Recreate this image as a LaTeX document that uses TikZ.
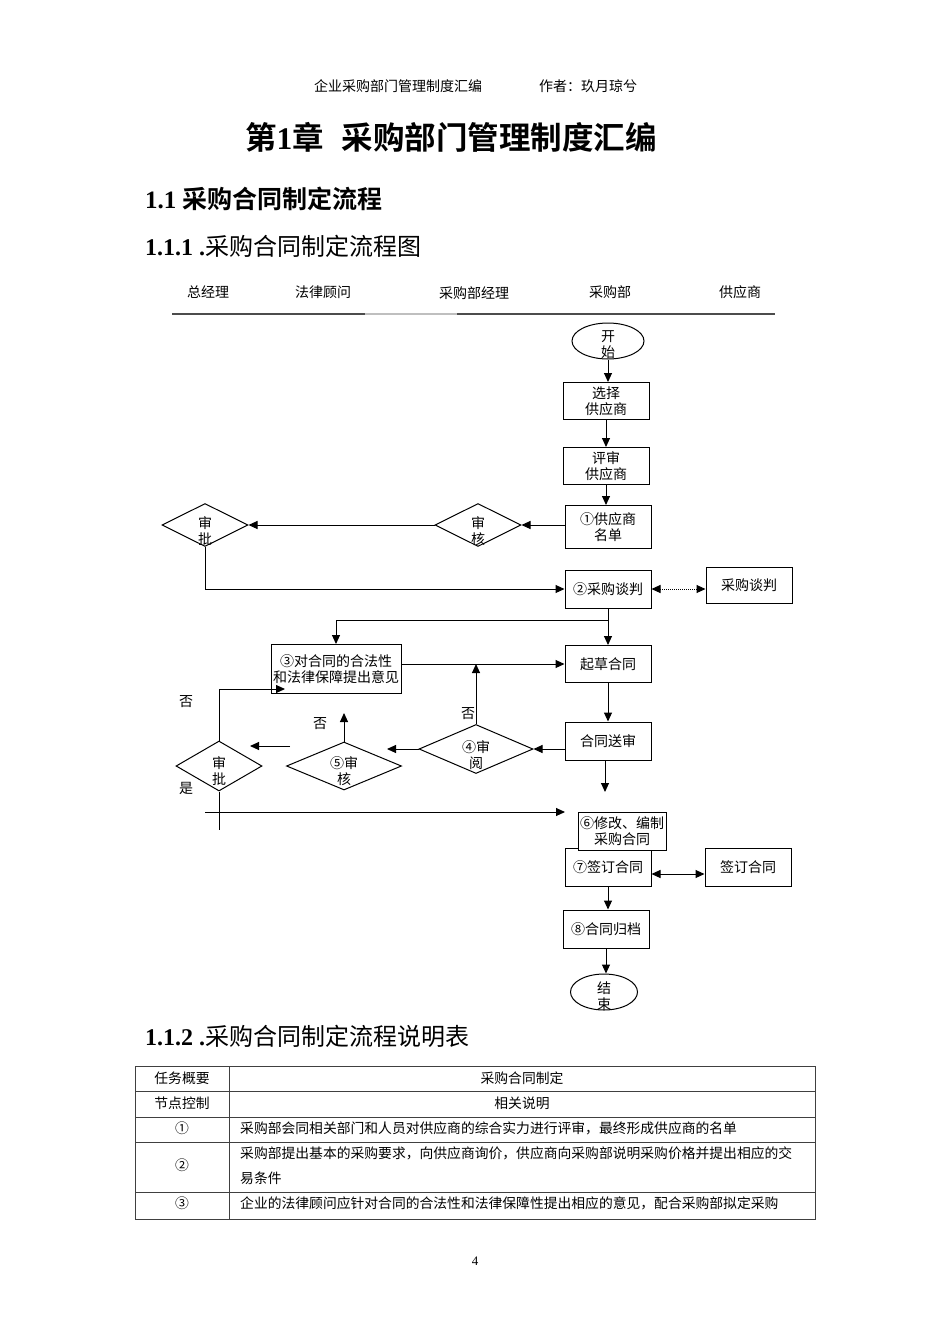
\documentclass[tikz,border=0pt]{standalone}
\usepackage{fontspec}
\setmainfont{Liberation Serif}
\newfontfamily\cjk{Noto Sans CJK SC}[BoldFont={* Bold}]
\usetikzlibrary{arrows.meta,shapes.geometric,calc}
\begin{document}
\begin{tikzpicture}[x=1pt,y=-1pt,
  every node/.style={inner sep=0pt},
  txt/.style={font=\fontsize{14}{16}\selectfont\cjk,align=center},
  box/.style={draw,line width=1pt,minimum width=86pt,minimum height=37pt,font=\fontsize{14}{16}\selectfont\cjk,align=center},
  dia/.style={draw,line width=1pt,diamond},
  ell/.style={draw,line width=1pt,ellipse},
  ln/.style={line width=1pt},
  arr/.style={line width=1pt,-{Triangle[length=9pt,width=8pt]}},
  darr/.style={line width=1pt,{Triangle[length=9pt,width=8pt]}-{Triangle[length=9pt,width=8pt]}},
  tbl/.style={draw=black!75,line width=0.8pt},
  ttxt/.style={font=\fontsize{13.8}{16}\selectfont\cjk}
]
\useasboundingbox (0,0) rectangle (950,1344);
\fill[white] (0,0) rectangle (950,1344);

% page header and headings
\node[font=\fontsize{14}{16}\selectfont\cjk] (hdA) at (398,86) {企业采购部门管理制度汇编};
\node[font=\fontsize{14}{16}\selectfont\cjk] (hdB) at (588,86) {作者：玖月琼兮};
\node (title) at (451,137) {\fontsize{31.5}{35}\selectfont{\cjk\bfseries 第}{\bfseries 1}{\cjk\bfseries 章\hspace{18pt}采购部门管理制度汇编}};
\node[anchor=west] (h11) at (145,199) {\fontsize{25}{28}\selectfont{\bfseries 1.1 }{\cjk\bfseries 采购合同制定流程}};
\node[anchor=west] (h111) at (145,246) {\fontsize{24}{27}\selectfont{\bfseries 1.1.1 .}{\cjk 采购合同制定流程图}};

% lane header
\node[txt] (lA) at (208,292) {总经理};
\node[txt] (lB) at (323,292) {法律顾问};
\node[txt] (lC) at (474,293) {采购部经理};
\node[txt] (lD) at (610,292) {采购部};
\node[txt] (lE) at (740,292) {供应商};
\draw[black!70,line width=1.6pt] (172,314) -- (365,314);
\draw[black!25,line width=1.6pt] (365,314) -- (457,314);
\draw[black!70,line width=1.6pt] (457,314) -- (775,314);

% nodes
\node[ell,minimum width=72pt,minimum height=36pt] (start) at (608,341) {};
\node[txt] at (608,345) {开\\始};
\node[box] (sel) at (606,401) {选择\\供应商};
\node[box] (rev) at (606,466) {评审\\供应商};
\node[box,minimum height=43pt] (n1) at (608,527) {①供应商\\名单};
\node[dia,minimum width=86pt,minimum height=43pt] (dA) at (478,525) {};
\node[txt] at (478,531) {审\\核};
\node[dia,minimum width=86pt,minimum height=43pt] (dB) at (205,525) {};
\node[txt] at (205,531) {审\\批};
\node[box,minimum height=38pt] (n2) at (608,589) {②采购谈判};
\node[box,minimum height=36pt] (neg) at (749,585) {采购谈判};
\node[box,minimum width=130pt,minimum height=49pt] (n3) at (336,669) {③对合同的合法性\\和法律保障提出意见};
\node[box] (draft) at (608,664) {起草合同};
\node[box,minimum height=38pt] (send) at (608,741) {合同送审};
\node[dia,minimum width=114pt,minimum height=49pt] (d4) at (476,749) {};
\node[txt] at (476,755) {④审\\阅};
\node[dia,minimum width=115pt,minimum height=48pt] (d5) at (344,766) {};
\node[txt] at (344,771) {⑤审\\核};
\node[dia,minimum width=86pt,minimum height=50pt] (d6) at (219,766) {};
\node[txt] at (219,771) {审\\批};
\node[box,minimum height=38pt] (n7) at (608,867) {⑦签订合同};
\node[box,minimum width=88pt,minimum height=38pt,fill=white] (n6) at (622,831) {⑥修改、编制\\采购合同};
\node[box,minimum height=38pt] (sign) at (748,867) {签订合同};
\node[box,minimum height=38pt] (n8) at (606,929) {⑧合同归档};
\node[ell,minimum width=67pt,minimum height=36pt] (end) at (604,992) {};
\node[txt] at (604,996) {结\\束};

% labels
\node[txt] (no1) at (186,702) {否};
\node[txt] (yes) at (186,788) {是};
\node[txt] (no2) at (320,724) {否};
\node[txt] (no3) at (468,714) {否};

% free ends
\coordinate (br) at (608,620);
\coordinate (c1) at (387,749);
\coordinate (c2) at (344,713);
\coordinate (c3) at (290,746);
\coordinate (c4) at (250,746);
\coordinate (c5) at (285,689);
\coordinate (c6) at (219,830);
\coordinate (c7) at (205,812);
\coordinate (c8) at (565,812);
\coordinate (c9) at (605,792);

% connectors
\draw[arr] (start.south) -- (start.south |- sel.north);
\draw[arr] (sel.south) -- (rev.north);
\draw[arr] (rev.south) -- (rev.south |- n1.north);
\draw[arr] (n1.west |- dA.east) -- (dA.east);
\draw[arr] (dA.west) -- (dB.east);
\draw[arr] (dB.south) |- (n2.west);
\draw[darr,densely dotted] (n2.east) -- (n2.east -| neg.west);
\draw[arr] (n2.south) -- (draft.north);
\draw[arr] (br) -| (n3.north);
\draw[arr] (n3.east |- draft.west) -- (draft.west);
\draw[arr] (draft.south) -- (send.north);
\draw[arr] (send.west |- d4.east) -- (d4.east);
\draw[arr] (d4.north) -- (d4.north |- draft.west);
\draw[arr] (d4.west) -- (c1);
\draw[arr] (d5.north) -- (c2);
\draw[arr] (c3) -- (c4);
\draw[arr] (d6.north) |- (c5);
\draw[ln] (d6.south) -- (c6);
\draw[arr] (c7) -- (c8);
\draw[arr] (c9 |- send.south) -- (c9);
\draw[darr] ([yshift=-7pt]n7.east) -- ([yshift=-7pt]n7.east -| sign.west);
\draw[arr] (n7.south) -- (n7.south |- n8.north);
\draw[arr] (n8.south) -- (n8.south |- end.north);

% second heading and table
\node[anchor=west] (h112) at (145,1036) {\fontsize{24}{27}\selectfont{\bfseries 1.1.2 .}{\cjk 采购合同制定流程说明表}};
\draw[tbl] (135,1066) rectangle (815,1219);
\draw[tbl] (229,1066) -- (229,1219);
\foreach \yy in {1091,1117,1142,1192} \draw[tbl] (135,\yy) -- (815,\yy);
\node[ttxt] (t11) at (182,1078) {任务概要};
\node[ttxt] (t12) at (522,1078) {采购合同制定};
\node[ttxt] (t21) at (182,1103) {节点控制};
\node[ttxt] (t22) at (522,1103) {相关说明};
\node[ttxt] (t31) at (182,1128) {①};
\node[ttxt,anchor=west] (t32) at (240,1128) {采购部会同相关部门和人员对供应商的综合实力进行评审，最终形成供应商的名单};
\node[ttxt] (t41) at (182,1165) {②};
\node[ttxt,anchor=west] (t42) at (240,1153) {采购部提出基本的采购要求，向供应商询价，供应商向采购部说明采购价格并提出相应的交};
\node[ttxt,anchor=west] (t43) at (240,1178) {易条件};
\node[ttxt] (t51) at (182,1203) {③};
\node[ttxt,anchor=west] (t52) at (240,1203) {企业的法律顾问应针对合同的合法性和法律保障性提出相应的意见，配合采购部拟定采购};
\node[font=\fontsize{13}{15}\selectfont] (pg) at (475,1261) {4};
\end{tikzpicture}
\end{document}
